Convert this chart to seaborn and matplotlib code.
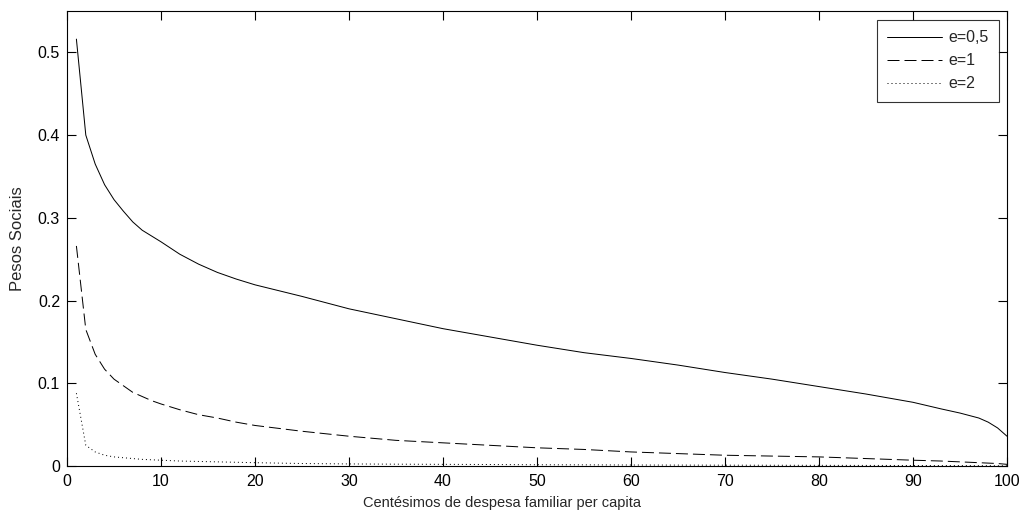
import matplotlib
matplotlib.use("Agg")
import matplotlib.pyplot as plt
import seaborn as sns
import pandas as pd

# Data: percentiles and social weights for three inequality-aversion values
percentis = [1, 2, 3, 4, 5, 6, 7, 8, 9, 10, 12, 14, 16, 18, 20, 25, 30, 35, 40, 45,
             50, 55, 60, 65, 70, 75, 80, 85, 90, 93, 95, 97, 98, 99, 100]
pesos_e05 = [0.516, 0.400, 0.365, 0.340, 0.322, 0.308, 0.295, 0.285, 0.278, 0.271,
             0.256, 0.244, 0.234, 0.226, 0.219, 0.205, 0.190, 0.178, 0.166, 0.156,
             0.146, 0.137, 0.130, 0.122, 0.113, 0.105, 0.096, 0.087, 0.077, 0.069,
             0.064, 0.058, 0.053, 0.046, 0.036]
pesos_e1 = [0.266, 0.165, 0.135, 0.117, 0.105, 0.097, 0.089, 0.084, 0.079, 0.075,
            0.068, 0.062, 0.058, 0.053, 0.049, 0.042, 0.036, 0.031, 0.028, 0.025,
            0.022, 0.020, 0.017, 0.015, 0.013, 0.012, 0.011, 0.009, 0.007, 0.006,
            0.005, 0.004, 0.0035, 0.003, 0.002]
pesos_e2 = [0.088, 0.025, 0.017, 0.013, 0.011, 0.010, 0.009, 0.008, 0.0075, 0.007,
            0.006, 0.0055, 0.005, 0.0045, 0.004, 0.003, 0.0025, 0.0022, 0.002, 0.0018,
            0.0015, 0.0014, 0.0012, 0.0011, 0.001, 0.0009, 0.0008, 0.0007, 0.0006, 0.0005,
            0.0005, 0.0004, 0.0004, 0.0003, 0.0003]
series_labels = ["e=0,5", "e=1", "e=2"]
x_ticks = [0, 10, 20, 30, 40, 50, 60, 70, 80, 90, 100]
y_ticks = [0, 0.1, 0.2, 0.3, 0.4, 0.5]
y_ticklabels = ["0", "0.1", "0.2", "0.3", "0.4", "0.5"]

df = pd.concat([
    pd.DataFrame({"x": percentis, "y": vals, "e": lab})
    for vals, lab in zip([pesos_e05, pesos_e1, pesos_e2], series_labels)
], ignore_index=True)

sns.set_style("ticks")
plt.rcParams["font.family"] = ["Liberation Sans", "DejaVu Sans"]
plt.rcParams["font.size"] = 10

fig = plt.figure(figsize=(10.21, 5.13), dpi=100)
ax = fig.add_axes([67 / 1021, 1 - 466 / 513, (1007 - 67) / 1021, (466 - 11) / 513])

lw = 0.72
sns.lineplot(data=df, x="x", y="y", style="e", style_order=series_labels,
             dashes={"e=0,5": "", "e=1": (12, 5), "e=2": (1, 3)},
             color="black", linewidth=lw, legend=False, ax=ax, estimator=None, sort=False)

ax.set_xlim(0, 100)
ax.set_ylim(0, 0.55)
ax.set_xticks(x_ticks)
ax.set_xticklabels([str(t) for t in x_ticks])
ax.set_yticks(y_ticks)
ax.set_yticklabels(y_ticklabels)
ax.tick_params(direction="in", length=6.8, width=0.8, top=True, right=True,
               labelsize=11.5, colors="black")
ax.tick_params(axis="x", pad=6)
ax.tick_params(axis="y", pad=5)
for sp in ax.spines.values():
    sp.set_visible(True)
    sp.set_linewidth(0.8)
    sp.set_color("black")

ax.set_xlabel("Centésimos de despesa familiar per capita", fontsize=10.5)
ax.set_ylabel("Pesos Sociais", fontsize=12)
ax.xaxis.set_label_coords(0.463, -0.081)
ax.xaxis.label.set_va("center")
ax.yaxis.set_label_coords(-0.0527, 0.5)
ax.yaxis.label.set_va("center")

leg = ax.legend(ax.get_lines()[:3], series_labels, loc="upper right",
                bbox_to_anchor=(0.9915, 0.980), borderaxespad=0, frameon=True,
                fancybox=False, edgecolor="black", fontsize=11.5, handlelength=3.45,
                borderpad=0.65, labelspacing=0.5, handletextpad=0.4)
leg.get_frame().set_linewidth(0.8)

fig.savefig("out.png", dpi=100, facecolor="white")
